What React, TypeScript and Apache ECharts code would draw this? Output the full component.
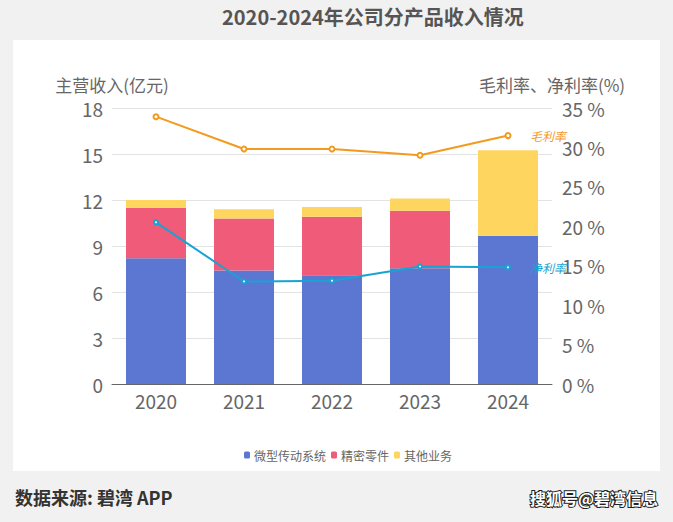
import React, { useEffect, useRef } from "react";
import * as echarts from "echarts";

// 年份
const years = ["2020", "2021", "2022", "2023", "2024"];
// 主营收入分产品（亿元）
const microDrive = [8.2, 7.4, 7.1, 7.55, 9.67];
const precisionParts = [3.3, 3.4, 3.8, 3.75, 0];
const otherBiz = [0.5, 0.6, 0.65, 0.8, 5.57];
// 利润率（%）
const grossMargin = [33.9, 29.8, 29.8, 29.0, 31.5];
const netMargin = [20.5, 13.0, 13.1, 14.9, 14.8];

const FONT = "'Noto Sans CJK SC', 'Noto Sans', sans-serif";

export default function App() {
  const ref = useRef<HTMLDivElement>(null);

  useEffect(() => {
    if (!ref.current) return;
    const chart = echarts.init(ref.current, undefined, { renderer: "svg" });
    chart.setOption({
      animation: false,
      backgroundColor: "#f1f1f1",
      textStyle: { fontFamily: FONT },
      graphic: [
        {
          type: "rect",
          z: -10,
          shape: { x: 13, y: 40, width: 647, height: 431 },
          style: { fill: "#ffffff" },
        },
        {
          type: "text",
          left: 222,
          top: 6,
          style: {
            text: "2020-2024年公司分产品收入情况",
            font: `bold 20px ${FONT}`,
            fill: "#555555",
          },
        },
        {
          type: "text",
          left: 15,
          top: 488,
          style: {
            text: "数据来源: 碧湾 APP",
            font: `bold 18px ${FONT}`,
            fill: "#333333",
          },
        },
        {
          type: "text",
          right: 14,
          top: 489,
          style: {
            text: "搜狐号@碧湾信息",
            font: `bold 16px ${FONT}`,
            fill: "#ffffff",
            stroke: "#222222",
            lineWidth: 2,
          },
        },
      ],
      legend: {
        bottom: 56,
        left: 239,
        itemWidth: 6,
        itemHeight: 7,
        itemGap: 5,
        icon: "roundRect",
        data: ["微型传动系统", "精密零件", "其他业务"],
        textStyle: { color: "#666666", fontSize: 12, fontFamily: FONT, padding: [0, 0, 0, -1] },
      },
      grid: { left: 112, right: 121, top: 108, bottom: 138 },
      xAxis: {
        type: "category",
        data: years,
        axisLine: { lineStyle: { color: "#666666" } },
        axisTick: { show: false },
        axisLabel: { color: "#666666", fontSize: 19, margin: 7 },
      },
      yAxis: [
        {
          type: "value",
          name: "主营收入(亿元)",
          nameGap: 15,
          nameTextStyle: { color: "#666666", fontSize: 17 },
          min: 0,
          max: 18,
          interval: 3,
          axisLine: { show: false },
          axisTick: { show: false },
          axisLabel: { color: "#666666", fontSize: 19, margin: 9 },
          splitLine: { lineStyle: { color: "#e3e3e3" } },
        },
        {
          type: "value",
          name: "毛利率、净利率(%)",
          nameGap: 15,
          nameTextStyle: { color: "#666666", fontSize: 17 },
          min: 0,
          max: 35,
          interval: 5,
          axisLine: { show: false },
          axisTick: { show: false },
          axisLabel: { color: "#666666", fontSize: 19, margin: 10, formatter: "{value} %" },
          splitLine: { show: false },
        },
      ],
      series: [
        {
          name: "微型传动系统",
          type: "bar",
          stack: "rev",
          barWidth: 60,
          itemStyle: { color: "#5b77d2" },
          data: microDrive,
        },
        {
          name: "精密零件",
          type: "bar",
          stack: "rev",
          barWidth: 60,
          itemStyle: { color: "#ef5b78" },
          data: precisionParts,
        },
        {
          name: "其他业务",
          type: "bar",
          stack: "rev",
          barWidth: 60,
          itemStyle: { color: "#fed65f" },
          data: otherBiz,
        },
        {
          name: "毛利率",
          type: "line",
          yAxisIndex: 1,
          symbol: "emptyCircle",
          symbolSize: 5,
          z: 5,
          lineStyle: { color: "#f39a1e", width: 2 },
          itemStyle: { color: "#f39a1e" },
          endLabel: {
            show: true,
            formatter: "{a}",
            distance: 22,
            color: "#f39a1e",
            fontSize: 12,
            fontStyle: "italic",
            fontFamily: FONT,
          },
          data: grossMargin,
        },
        {
          name: "净利率",
          type: "line",
          yAxisIndex: 1,
          symbol: "emptyCircle",
          symbolSize: 4,
          z: 5,
          lineStyle: { color: "#18a3d2", width: 2 },
          itemStyle: { color: "#18a3d2", borderColor: "#ffffff" },
          endLabel: {
            show: true,
            formatter: "{a}",
            distance: 22,
            color: "#18a3d2",
            fontSize: 12,
            fontStyle: "italic",
            fontFamily: FONT,
          },
          data: netMargin,
        },
      ],
    });
    return () => chart.dispose();
  }, []);

  return (
    <div
      ref={ref}
      style={{ position: "absolute", left: 0, top: 0, width: 673, height: 522 }}
    />
  );
}
